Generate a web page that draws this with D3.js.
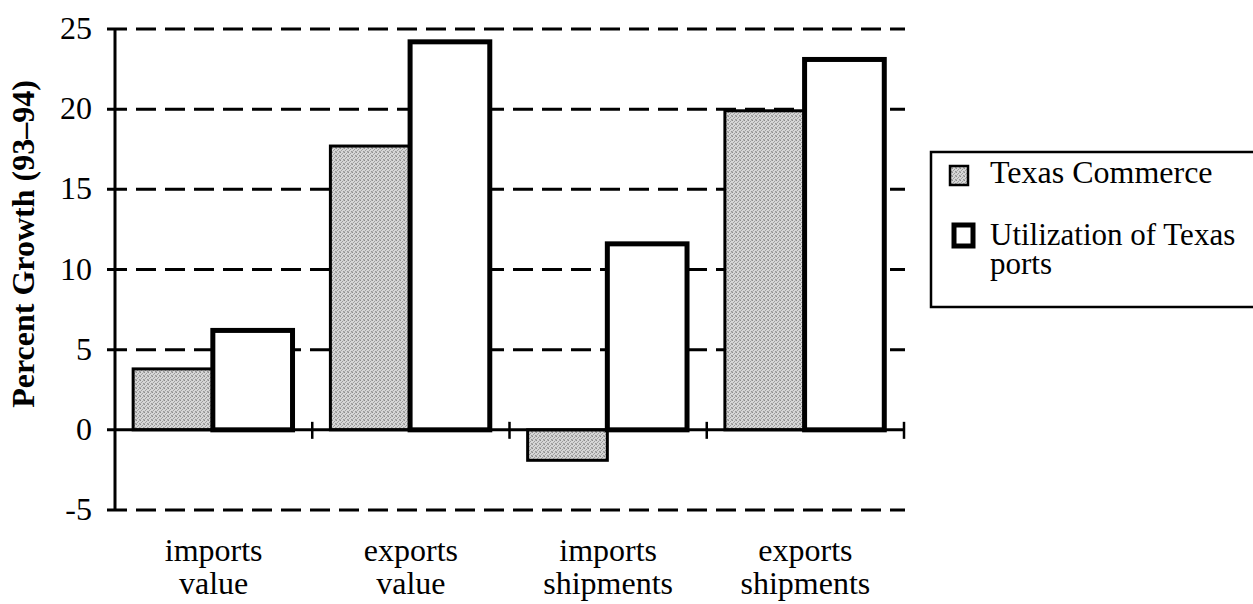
<!DOCTYPE html>
<html><head><meta charset="utf-8">
<script src="https://cdn.jsdelivr.net/npm/d3@7"></script>
<style>body{margin:0;background:#fff}svg{display:block}text{font-family:"Liberation Serif","Times New Roman",Times,serif}</style>
</head><body><svg id="c" width="1253" height="604"></svg>
<script>
const categories = [["imports","value"],["exports","value"],["imports","shipments"],["exports","shipments"]];
const seriesNames = ["Texas Commerce","Utilization of Texas ports"];
const texasCommerce = [3.8, 17.7, -1.9, 19.9];
const utilization = [6.2, 24.2, 11.6, 23.1];
const yTicks = [-5, 0, 5, 10, 15, 20, 25];

const svg = d3.select("#c");
const font = "Liberation Serif";
const defs = svg.append("defs");
const pat = defs.append("pattern").attr("id","stip").attr("width",4).attr("height",4).attr("patternUnits","userSpaceOnUse");
pat.append("rect").attr("width",4).attr("height",4).attr("fill","#d6d6d6");
[[0,0,"#8c8c8c"],[2,1,"#9c9c9c"],[1,2,"#a0a0a0"],[3,3,"#989898"],[3,0,"#b4b4b4"],[0,3,"#b0b0b0"]].forEach(([px,py,c])=>{
  pat.append("rect").attr("x",px).attr("y",py).attr("width",1).attr("height",1).attr("fill",c);
});

const y = d3.scaleLinear().domain([-5,25]).range([510,29]);
const keys = categories.map(c=>c.join(" "));
const x = d3.scaleBand().domain(keys).range([115,904]).padding(0);
const bw = x.bandwidth();
const xs = d3.scaleBand().domain(seriesNames).range([bw*0.092, bw*0.9]).padding(0);

// gridlines
svg.append("g").selectAll("line").data(yTicks.filter(d=>d!==0)).join("line")
  .attr("x1",107).attr("x2",905).attr("y1",d=>y(d)).attr("y2",d=>y(d))
  .attr("stroke","#000").attr("stroke-width",3).attr("stroke-dasharray","20,9");

// y axis labels
const ya = svg.append("g").attr("transform","translate(115,0)")
  .call(d3.axisLeft(y).tickValues(yTicks).tickSize(0).tickPadding(23).tickFormat(d=>String(d)));
ya.select(".domain").remove();
ya.attr("font-family",font).attr("font-size",32);
ya.selectAll("text").attr("font-family",font).attr("font-size",32).attr("fill","#000").attr("dy","0.3em");

// bars
const data = [];
keys.forEach((k,i)=>{
  data.push({k, s:seriesNames[0], v:texasCommerce[i]});
  data.push({k, s:seriesNames[1], v:utilization[i]});
});
svg.append("g").selectAll("rect").data(data).join("rect")
  .attr("x",d=>x(d.k)+xs(d.s))
  .attr("width",xs.bandwidth())
  .attr("y",d=>Math.min(y(d.v),y(0)))
  .attr("height",d=>Math.abs(y(d.v)-y(0)))
  .attr("fill",d=>d.s===seriesNames[0]?"url(#stip)":"#fff")
  .attr("stroke","#000")
  .attr("stroke-width",d=>d.s===seriesNames[0]?3:5);

// y axis line
svg.append("line").attr("x1",115).attr("x2",115).attr("y1",y(25)).attr("y2",y(-5))
  .attr("stroke","#000").attr("stroke-width",3);
// x axis
svg.append("line").attr("x1",107).attr("x2",905).attr("y1",y(0)).attr("y2",y(0))
  .attr("stroke","#000").attr("stroke-width",3);
svg.append("g").selectAll("line").data(keys).join("line")
  .attr("x1",d=>x(d)+bw).attr("x2",d=>x(d)+bw)
  .attr("y1",y(0)-8).attr("y2",y(0)+9)
  .attr("stroke","#000").attr("stroke-width",2.5);

// x labels
const xl = svg.append("g").selectAll("text").data(categories).join("text")
  .attr("x",(d,i)=>x(keys[i])+bw/2).attr("y",561)
  .attr("text-anchor","middle").attr("font-family",font).attr("font-size",32).attr("fill","#000");
xl.selectAll("tspan").data(d=>d).join("tspan")
  .attr("x",function(){return this.parentNode.getAttribute("x");})
  .attr("dy",(d,i)=>i===0?0:33).text(d=>d);

// y title
svg.append("text").attr("transform","translate(34,244) rotate(-90)")
  .attr("text-anchor","middle").attr("font-family",font).attr("font-size",32)
  .attr("font-weight","bold").text("Percent Growth (93–94)");

// legend
const lg = svg.append("g");
lg.append("rect").attr("x",931).attr("y",152).attr("width",330).attr("height",155)
  .attr("fill","#fff").attr("stroke","#000").attr("stroke-width",2.5);
lg.append("rect").attr("x",950).attr("y",166).attr("width",18).attr("height",19)
  .attr("fill","url(#stip)").attr("stroke","#000").attr("stroke-width",2.5);
lg.append("text").attr("x",990).attr("y",183).attr("font-family",font).attr("font-size",32).text("Texas Commerce");
lg.append("rect").attr("x",954).attr("y",225).attr("width",19).attr("height",21)
  .attr("fill","#fff").attr("stroke","#000").attr("stroke-width",5);
const t2 = lg.append("text").attr("x",990).attr("y",245).attr("font-family",font).attr("font-size",31);
t2.append("tspan").attr("x",990).text("Utilization of Texas");
t2.append("tspan").attr("x",990).attr("dy",29).text("ports");
</script></body></html>
